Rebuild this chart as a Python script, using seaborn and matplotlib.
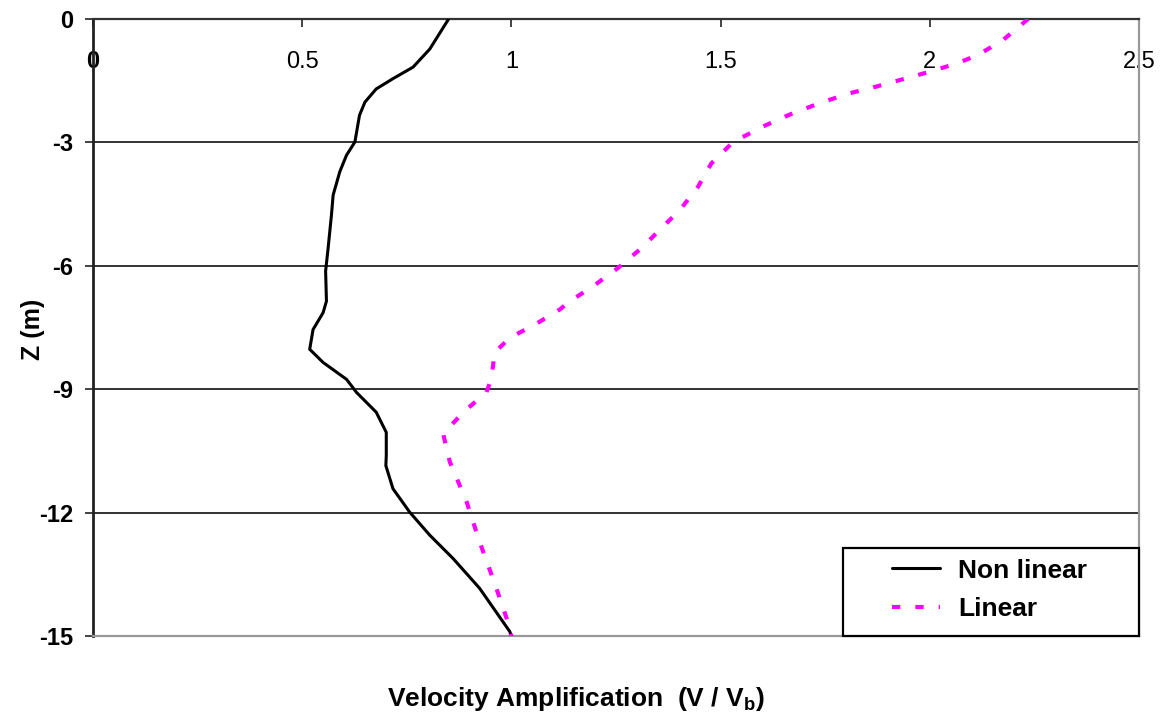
import matplotlib
matplotlib.use("Agg")
import matplotlib.pyplot as plt
from matplotlib.patches import Rectangle
import seaborn as sns
import pandas as pd

# Depth profiles of velocity amplification
nonlinear_z = [0, -0.73, -1.17, -1.45, -1.70, -2.02, -2.34, -2.99, -3.31, -3.71,
               -4.28, -4.76, -5.57, -6.13, -6.86, -7.14, -7.55, -8.03, -8.35, -8.76,
               -9.08, -9.56, -10.05, -10.61, -10.86, -11.42, -11.99, -12.55, -13.12,
               -13.84, -14.89, -15]
nonlinear_v = [0.85, 0.805, 0.765, 0.717, 0.677, 0.650, 0.637, 0.626, 0.606, 0.590,
               0.574, 0.570, 0.562, 0.556, 0.558, 0.550, 0.526, 0.518, 0.550, 0.606,
               0.630, 0.677, 0.701, 0.701, 0.700, 0.717, 0.757, 0.805, 0.861,
               0.924, 0.996, 1.0]

linear_z = [0, -0.51, -0.87, -1.06, -1.27, -1.46, -1.64, -1.82, -2.06, -2.32, -2.61,
            -2.99, -3.51, -4.08, -4.64, -5.08, -5.57, -6.05, -6.50, -6.86, -7.06,
            -7.43, -7.75, -8.11, -8.76, -9.08, -9.56, -10.09, -10.77, -11.74, -12.71,
            -13.72, -14.73, -15]
linear_v = [2.235, 2.175, 2.116, 2.07, 2.004, 1.937, 1.873, 1.803, 1.733, 1.666, 1.602,
            1.530, 1.478, 1.446, 1.403, 1.359, 1.311, 1.255, 1.195, 1.140, 1.116,
            1.056, 0.996, 0.960, 0.952, 0.940, 0.885, 0.837, 0.853, 0.893, 0.924,
            0.960, 0.994, 1.0]

series_names = ["Non linear", "Linear"]
x_ticks = [0, 0.5, 1, 1.5, 2, 2.5]
x_tick_labels = ["0", "0.5", "1", "1.5", "2", "2.5"]
y_ticks = [0, -3, -6, -9, -12, -15]
y_tick_labels = ["0", "-3", "-6", "-9", "-12", "-15"]

sns.set_style("white")
plt.rcParams["font.family"] = ["Liberation Sans", "DejaVu Sans"]
plt.rcParams["text.color"] = "black"
plt.rcParams["axes.labelcolor"] = "black"
plt.rcParams["xtick.color"] = "black"
plt.rcParams["ytick.color"] = "black"
plt.rcParams["mathtext.fontset"] = "custom"
plt.rcParams["mathtext.rm"] = "Liberation Sans:bold"

fig = plt.figure(figsize=(11.65, 7.17), dpi=100)
ax = fig.add_axes([0.0798, 0.1130, 0.8979, 0.8605])

df_nl = pd.DataFrame({"v": nonlinear_v, "z": nonlinear_z})
df_li = pd.DataFrame({"v": linear_v, "z": linear_z})

sns.lineplot(data=df_nl, x="v", y="z", sort=False, estimator=None, ax=ax,
             color="black", linewidth=2.2, label=series_names[0], zorder=3)
sns.lineplot(data=df_li, x="v", y="z", sort=False, estimator=None, ax=ax,
             color="#FF00FF", linewidth=3.0, label=series_names[1], zorder=3)
ax.lines[1].set_linestyle((0, (2.0, 3.6)))

ax.set_xlim(0, 2.5)
ax.set_ylim(-15, 0)

# horizontal grid at the interior depth ticks
for yv in y_ticks[1:-1]:
    ax.axhline(yv, color="#222222", linewidth=1.3, zorder=1)

# x ticks on top, labels drawn inside the frame
ax.xaxis.tick_top()
ax.set_xticks(x_ticks)
ax.set_xticklabels(x_tick_labels)
ax.tick_params(axis="x", which="both", direction="in", length=6, width=1.2,
               color="#222222", top=True, bottom=False, labeltop=True,
               labelbottom=False, pad=-39, labelsize=17)
ax.get_xticklabels()[0].set_fontweight("bold")

ax.set_yticks(y_ticks)
ax.set_yticklabels(y_tick_labels, fontweight="bold")
ax.tick_params(axis="y", direction="out", length=6, width=1.2, color="#222222",
               left=True, labelsize=17, pad=8)

for side, col, lw in [("left", "#222222", 2.0), ("top", "#333333", 1.6),
                      ("right", "#999999", 1.6), ("bottom", "#999999", 1.6)]:
    ax.spines[side].set_visible(True)
    ax.spines[side].set_color(col)
    ax.spines[side].set_linewidth(lw)

ax.set_ylabel("Z (m)", fontsize=18, fontweight="bold", labelpad=0)
ax.yaxis.set_label_coords(-0.046, 0.497)
ax.set_xlabel(r"Velocity Amplification  (V / V$_\mathrm{b}$)", fontsize=19,
              fontweight="bold")
ax.xaxis.set_label_position("bottom")
ax.xaxis.set_label_coords(0.462, -0.080)

# legend box in the lower right corner
ax.add_patch(Rectangle((0.717, 0.0), 0.283, 0.1426, transform=ax.transAxes,
                       facecolor="white", edgecolor="black", linewidth=1.6,
                       zorder=4, clip_on=False))
leg = ax.legend(loc="center left", bbox_to_anchor=(0.7516, 0.075), frameon=False,
                borderpad=0, handlelength=1.8, handletextpad=0.68,
                labelspacing=0.54, prop={"size": 19, "weight": "bold"})
leg.set_zorder(5)

fig.savefig("out.png", dpi=100)
